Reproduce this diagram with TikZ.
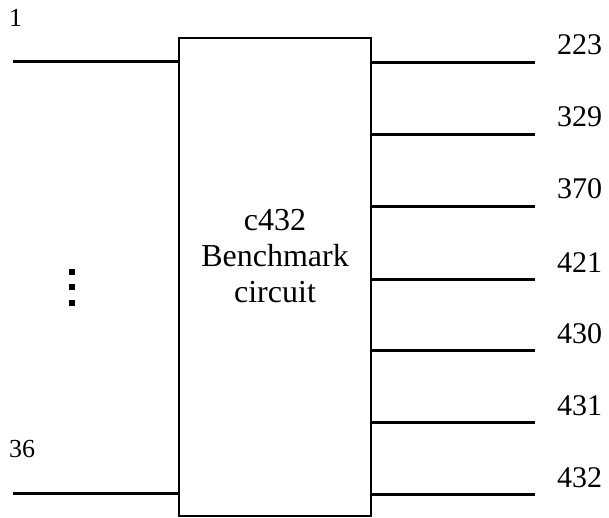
\documentclass[tikz,border=0pt]{standalone}
\usepackage{fontspec}
\setmainfont{Liberation Serif}
\usetikzlibrary{positioning}

\begin{document}
\begin{tikzpicture}[
    x=1pt, y=-1pt,
    font=\fontsize{30}{36}\selectfont,
    block/.style={rectangle, draw=black, line width=1.6pt, minimum width=192pt, minimum height=478pt, inner sep=0pt},
    wire/.style={line width=3pt, draw=black},
    outlbl/.style={anchor=base west, inner sep=0pt},
    inlbl/.style={anchor=base west, inner sep=0pt, font=\fontsize{26}{30}\selectfont},
    sqdot/.style={rectangle, fill=black, minimum size=5.5pt, inner sep=0pt}
]
\useasboundingbox (0,0) rectangle (609,518);

% Nodes
\node[block] (c432) at (275,277) {};
\node[align=center, inner sep=0pt, font=\fontsize{32}{36}\selectfont] (title) at (275,256) {c432\\Benchmark\\circuit};

\coordinate (in1) at (13,62);
\coordinate (in36) at (13,493);
\node[inlbl] (lbl1) at (9,27) {1};
\node[inlbl] (lbl36) at (9,457) {36};

\node[sqdot] (dota) at (72,272) {};
\node[sqdot] (dotb) at (72,287) {};
\node[sqdot] (dotc) at (72,303) {};

\coordinate (o223) at (535,63);
\coordinate (o329) at (535,135);
\coordinate (o370) at (535,207);
\coordinate (o421) at (535,279);
\coordinate (o430) at (535,350);
\coordinate (o431) at (535,422);
\coordinate (o432) at (535,494);

\node[outlbl] (l223) at (557,55) {223};
\node[outlbl] (l329) at (557,127) {329};
\node[outlbl] (l370) at (557,199) {370};
\node[outlbl] (l421) at (557,272) {421};
\node[outlbl] (l430) at (557,343) {430};
\node[outlbl] (l431) at (557,415) {431};
\node[outlbl] (l432) at (557,487) {432};

% Wires
\draw[wire] (in1) -- (in1 -| c432.west);
\draw[wire] (in36) -- (in36 -| c432.west);

\draw[wire] (o223 -| c432.east) -- (o223);
\draw[wire] (o329 -| c432.east) -- (o329);
\draw[wire] (o370 -| c432.east) -- (o370);
\draw[wire] (o421 -| c432.east) -- (o421);
\draw[wire] (o430 -| c432.east) -- (o430);
\draw[wire] (o431 -| c432.east) -- (o431);
\draw[wire] (o432 -| c432.east) -- (o432);

\end{tikzpicture}
\end{document}
